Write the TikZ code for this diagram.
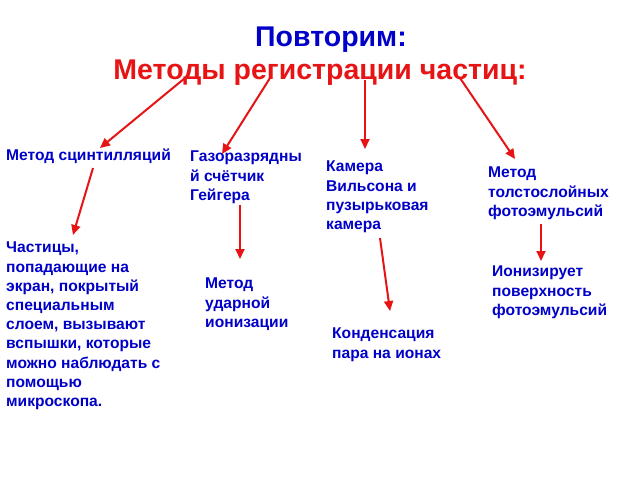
\documentclass[tikz,border=0pt]{standalone}
\usepackage{fontspec}
\setmainfont{Liberation Sans}
\usetikzlibrary{arrows.meta}
\definecolor{txtblue}{RGB}{0,0,200}
\definecolor{arrred}{RGB}{230,20,20}
\tikzset{
  lbl/.style={anchor=north west, align=left, inner sep=0pt, text=txtblue,
    font=\bfseries\fontsize{15.6}{19.2}\selectfont},
  redarrow/.style={draw=arrred, line width=2pt, -{Triangle[length=10pt,width=9pt]}}
}
\begin{document}
\begin{tikzpicture}[x=1pt,y=1pt]
\useasboundingbox[fill=white] (0,0) rectangle (640,-480);

% title
\node (title) at (331,-40) {\bfseries\fontsize{28.5}{30}\selectfont\color{txtblue}Повторим:};
\node (methods) at (320,-73) {\bfseries\fontsize{28.5}{30}\selectfont\color{arrred}Методы регистрации частиц:};

% methods
\node[lbl] (scint) at (6,-149) {Метод сцинтилляций};
\node[lbl] (geiger) at (190,-151) {Газоразрядны\\й счётчик\\Гейгера};
\node[lbl] (wilson) at (326,-161) {Камера\\Вильсона и\\пузырьковая\\камера};
\node[lbl] (emuls) at (488,-167) {Метод\\толстослойных\\фотоэмульсий};

% results
\node[lbl] (flash) at (6,-242) {Частицы,\\попадающие на\\экран, покрытый\\специальным\\слоем, вызывают\\вспышки, которые\\можно наблюдать с\\помощью\\микроскопа.};
\node[lbl] (impact) at (205,-278) {Метод\\ударной\\ионизации};
\node[lbl] (cond) at (332,-328) {Конденсация\\пара на ионах};
\node[lbl] (ioniz) at (492,-266) {Ионизирует\\поверхность\\фотоэмульсий};

% arrows
\coordinate (m1) at (185,-78);
\coordinate (m2) at (270,-78);
\coordinate (m3) at (365,-80);
\coordinate (m4) at (460,-78);
\draw[redarrow] (m1) -- (100,-148);
\draw[redarrow] (m2) -- (222,-154);
\draw[redarrow] (m3) -- (365,-149);
\draw[redarrow] (m4) -- (515,-159);
\coordinate (r1) at (93,-168);
\coordinate (r2) at (240,-205);
\coordinate (r3) at (380,-238);
\coordinate (r4) at (541,-224);
\draw[redarrow] (r1) -- (73,-235);
\draw[redarrow] (r2) -- (240,-259);
\draw[redarrow] (r3) -- (390,-311);
\draw[redarrow] (r4) -- (541,-261);
\end{tikzpicture}
\end{document}
